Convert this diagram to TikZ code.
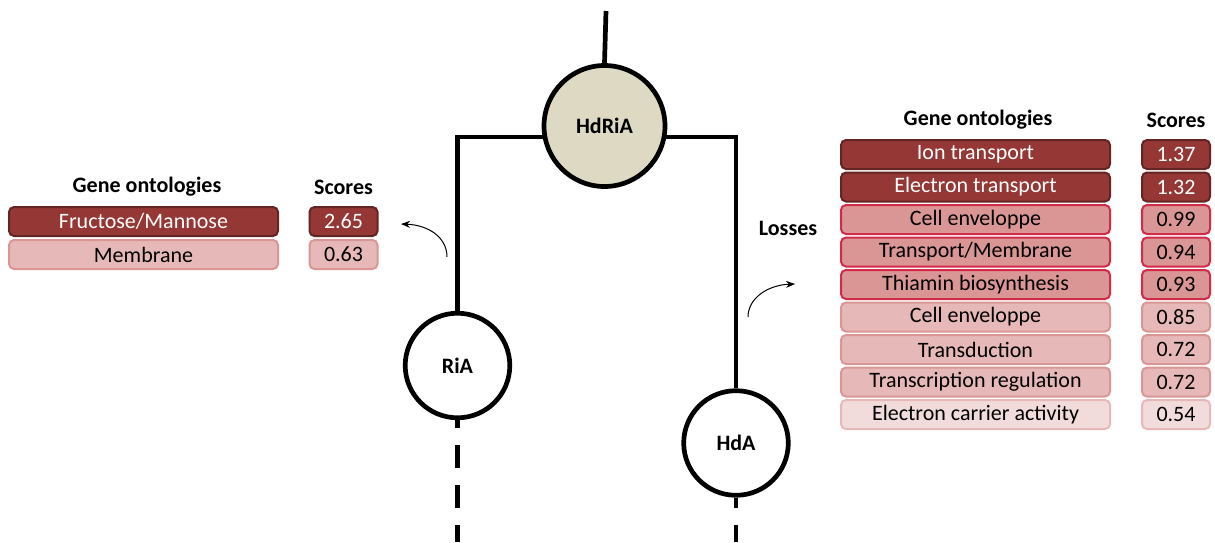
\documentclass[tikz,border=0pt]{standalone}
\usepackage{fontspec}
\setmainfont{Carlito}
\usetikzlibrary{arrows.meta}
\definecolor{dkfill}{HTML}{953735}
\definecolor{dkline}{HTML}{632523}
\definecolor{mdfill}{HTML}{D99694}
\definecolor{mdline}{HTML}{D42A48}
\definecolor{ltfill}{HTML}{E6B9B8}
\definecolor{ltline}{HTML}{D99694}
\definecolor{xlfill}{HTML}{F2DCDB}
\definecolor{xlline}{HTML}{E6B9B8}
\definecolor{beige}{HTML}{DDD9C3}
\begin{document}
\begin{tikzpicture}[x=1pt,y=-1pt,
  every node/.style={font=\fontsize{22}{26}\selectfont, inner sep=0pt},
  rowbox/.style={rounded corners=5pt, line width=2pt, minimum height=29pt},
  gobox/.style={rowbox, minimum width=269pt},
  scbox/.style={rowbox, minimum width=68pt},
  dk/.style={fill=dkfill, draw=dkline, text=white},
  md/.style={fill=mdfill, draw=mdline},
  lt/.style={fill=ltfill, draw=ltline},
  xl/.style={fill=xlfill, draw=xlline},
  hdr/.style={font=\fontsize{22}{26}\selectfont\bfseries},
  treenode/.style={circle, draw=black, line width=4.7pt, font=\fontsize{22}{26}\selectfont\bfseries},
  branch/.style={line width=4.7pt},
  dashbranch/.style={line width=4.7pt, dash pattern=on 23pt off 17pt},
  curvearrow/.style={line width=1pt, -{Stealth[length=9pt,width=7pt]}}
]
\useasboundingbox (0,0) rectangle (1215,542);

% tree nodes
\node[treenode, fill=beige, minimum size=121pt] (HdRiA) at (604.5,126) {HdRiA};
\node[treenode, fill=white, minimum size=104.6pt] (RiA) at (457.5,365.5) {RiA};
\node[treenode, fill=white, minimum size=104.6pt] (HdA) at (736,443) {HdA};
\coordinate (top) at (606,11);
\coordinate (RiAend) at (457.5,542);
\coordinate (HdAend) at (736,542);

\draw[branch] (top) -- (HdRiA.north);
\draw[branch] (HdRiA.190) -| (RiA.north);
\draw[branch] (HdRiA.350) -| (HdA.north);
\draw[dashbranch, dash phase=15pt] (RiA.south) -- (RiAend);
\draw[dashbranch, dash phase=13pt] (HdA.south) -- (HdAend);

% left table
\node[hdr] (lgoh) at (147,187) {Gene ontologies};
\node[hdr] (lsch) at (343.5,187) {Scores};
\node[gobox, dk] (l1) at (143.5,221.5) {Fructose/Mannose};
\node[scbox, dk] (ls1) at (343.5,221.5) {2.65};
\node[gobox, lt] (l2) at (143.5,254.5) {Membrane};
\node[scbox, lt] (ls2) at (343.5,254.5) {0.63};

% right table
\node[hdr] (rgoh) at (978,120) {Gene ontologies};
\node[hdr] (rsch) at (1176,120) {Scores};
\node[hdr] (loss) at (788,228) {Losses};

\node[gobox, dk] (r1) at (975.5,154.5) {Ion transport};
\node[scbox, dk] (rs1) at (1176,154.5) {1.37};
\node[gobox, dk] (r2) at (975.5,187) {Electron transport};
\node[scbox, dk] (rs2) at (1176,187) {1.32};
\node[gobox, md] (r3) at (975.5,219.5) {Cell enveloppe};
\node[scbox, md] (rs3) at (1176,219.5) {0.99};
\node[gobox, md] (r4) at (975.5,252) {Transport/Membrane};
\node[scbox, md] (rs4) at (1176,252) {0.94};
\node[gobox, md] (r5) at (975.5,284.5) {Thiamin biosynthesis};
\node[scbox, md] (rs5) at (1176,284.5) {0.93};
\node[gobox, lt] (r6) at (975.5,317) {Cell enveloppe};
\node[scbox, lt] (rs6) at (1176,317) {0.85};
\node[gobox, lt] (r7) at (975.5,349.5) {Transduction};
\node[scbox, lt] (rs7) at (1176,349.5) {0.72};
\node[gobox, lt] (r8) at (975.5,382) {Transcription regulation};
\node[scbox, lt] (rs8) at (1176,382) {0.72};
\node[gobox, xl] (r9) at (975.5,414.5) {Electron carrier activity};
\node[scbox, xl] (rs9) at (1176,414.5) {0.54};

% curved arrows
\coordinate (la0) at (447,257);
\coordinate (la1) at (401,224);
\draw[curvearrow] (la0) .. controls (447,237) and (428,225) .. (la1);
\coordinate (ra0) at (748,317);
\coordinate (ra1) at (795,284);
\draw[curvearrow] (ra0) .. controls (748,298) and (768,285) .. (ra1);
\end{tikzpicture}
\end{document}
